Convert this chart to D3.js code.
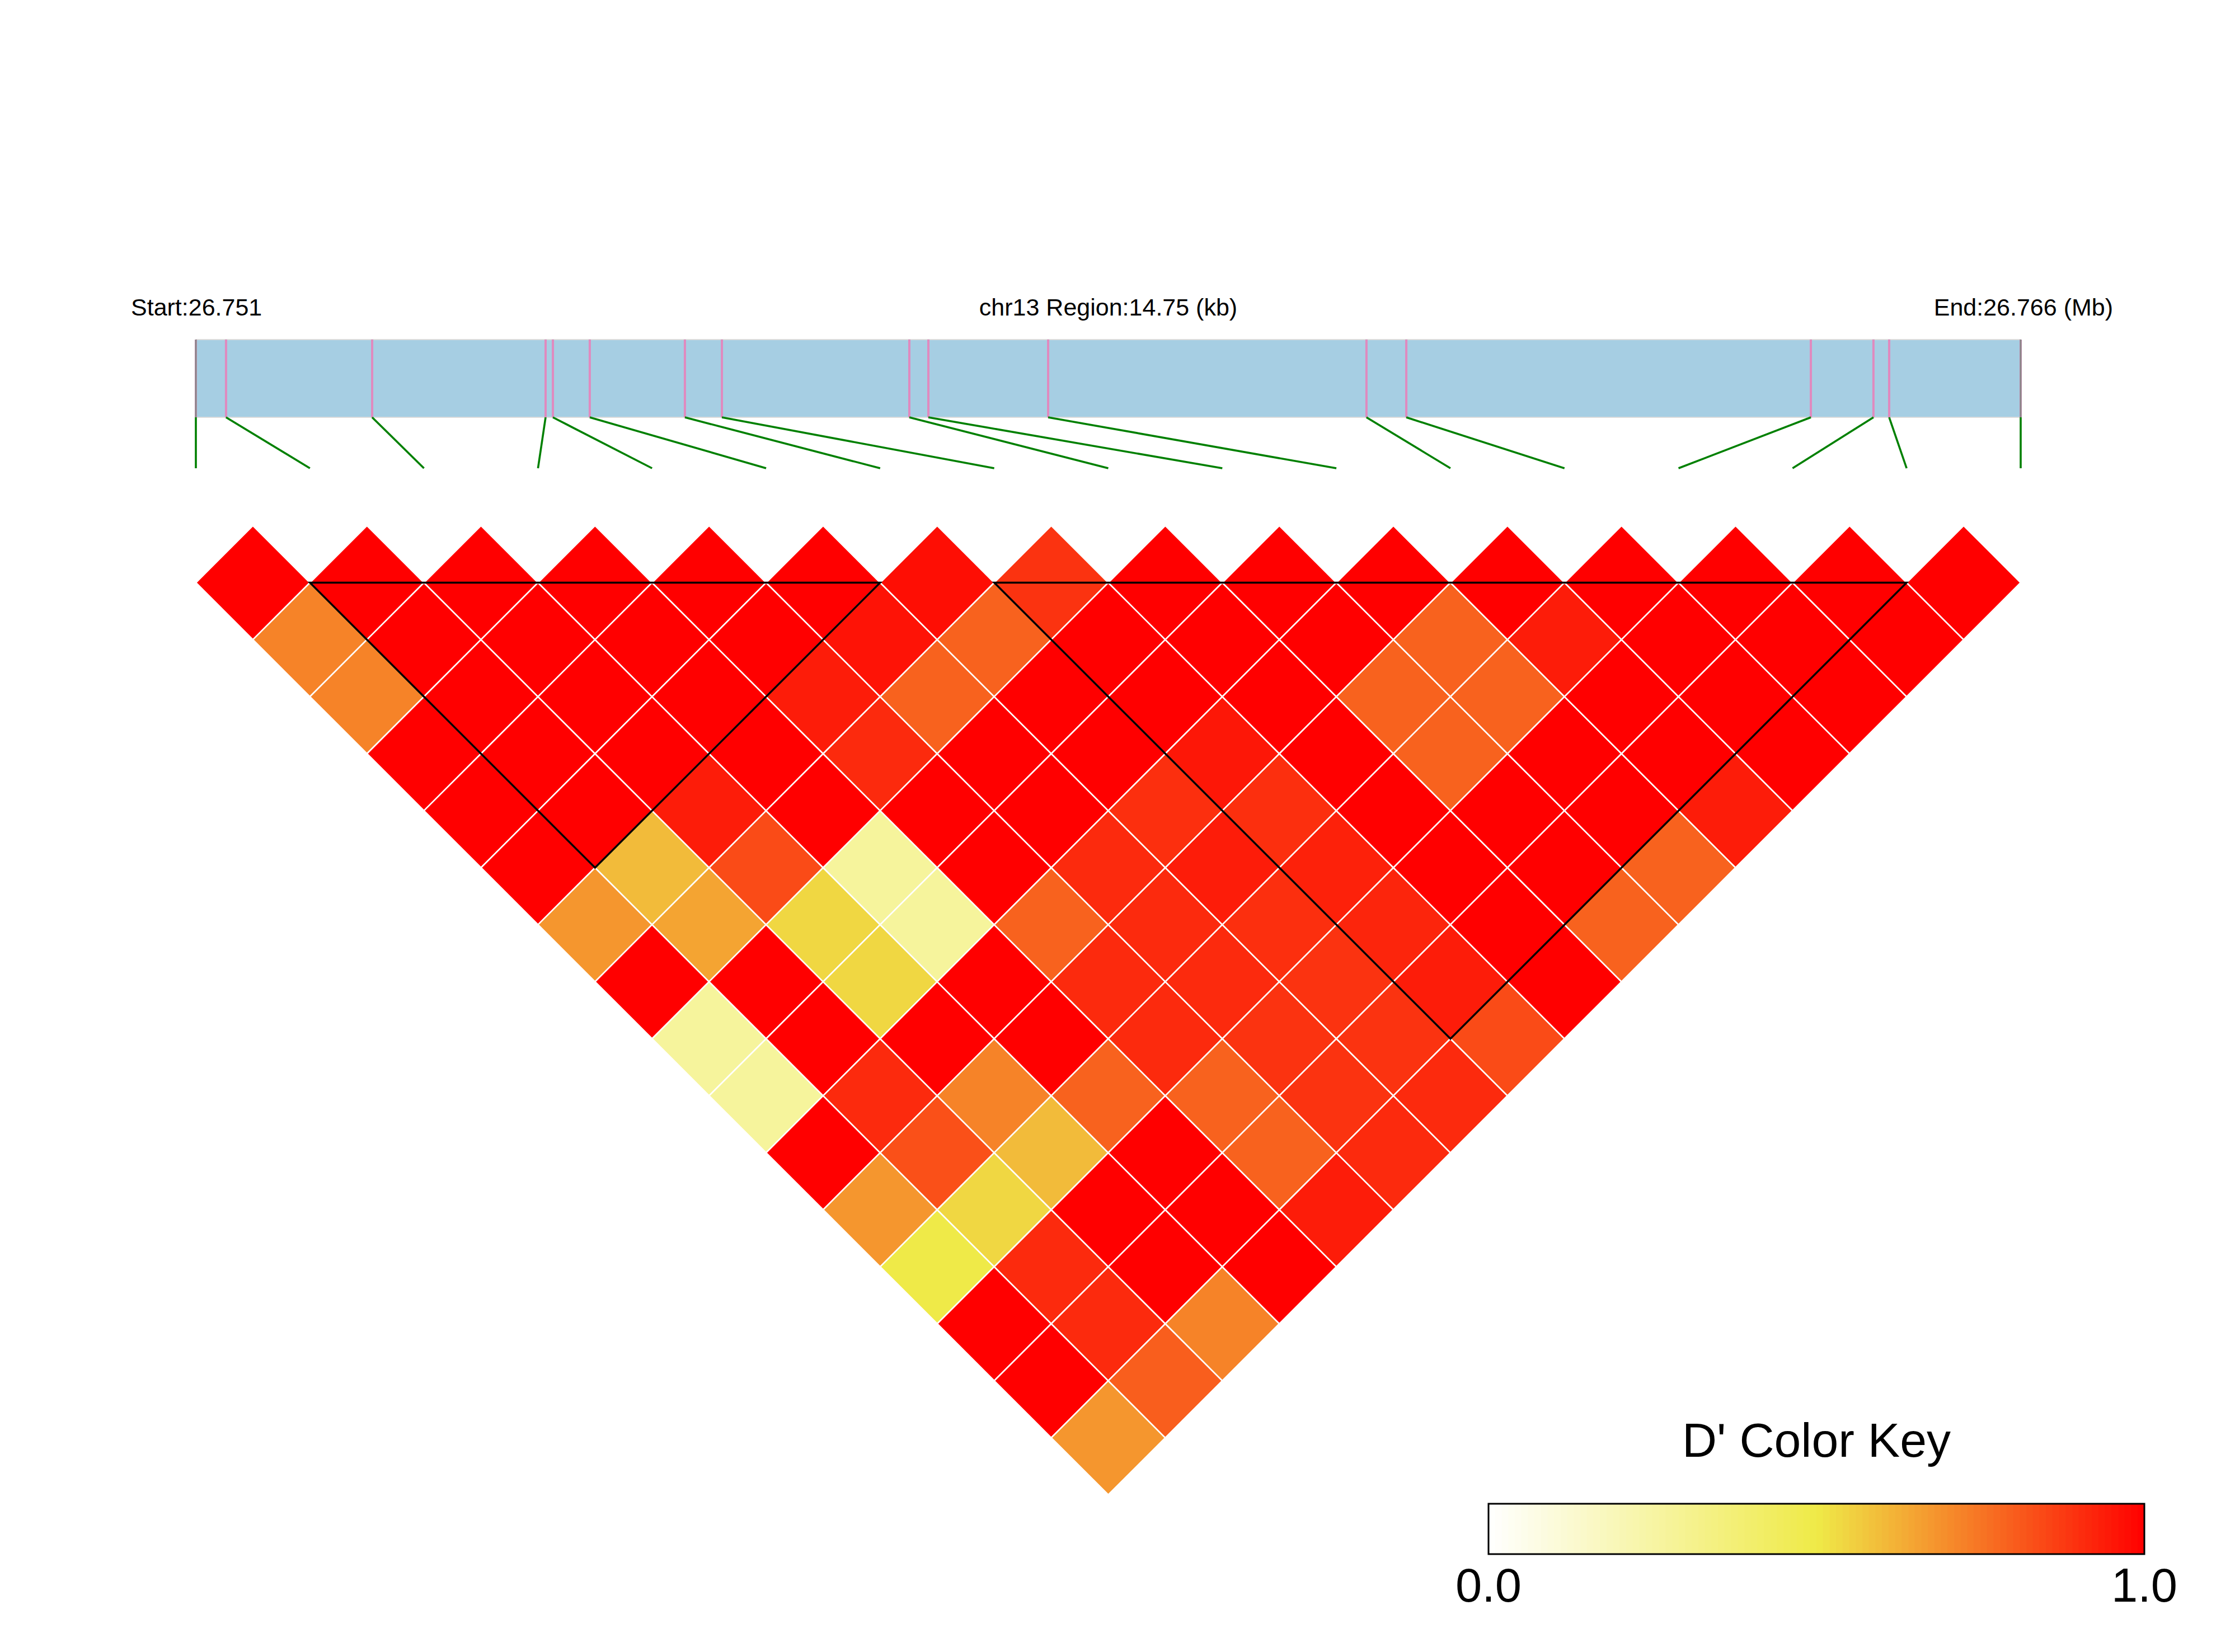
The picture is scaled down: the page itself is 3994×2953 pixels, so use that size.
<!DOCTYPE html>
<html>
<head>
<meta charset="utf-8">
<script src="https://cdn.jsdelivr.net/npm/d3@7"></script>
<style>
  body { margin: 0; background: #fff; }
  text { font-family: 'Liberation Sans', Arial, sans-serif; fill: #000; }
</style>
</head>
<body>
<svg id="ldPlot"></svg>
<script>
const chrom = 'chr13';
const regionStart = 26751200;
const regionEnd = 26765950;

// SNP positions (bp) along the region
const snpPos = [26751200, 26751444, 26752625, 26754027, 26754086, 26754384, 26755153, 26755452,
                26756967, 26757121, 26758089, 26760662, 26760984, 26764254, 26764760, 26764887, 26765950];

// pairwise D', row i holds pairs (i, i+1) ... (i, 16)
const dprime = [
  [1, 0.72, 0.72, 1, 1, 1, 0.68, 1, 0.27, 0.27, 1, 0.68, 0.5, 1, 1, 0.68],
  [1, 1, 1, 1, 1, 0.6, 0.65, 1, 1, 0.91, 0.83, 0.54, 0.91, 0.91, 0.8],
  [1, 1, 1, 1, 0.94, 0.84, 0.54, 0.54, 1, 0.72, 0.6, 1, 1, 0.72],
  [1, 1, 1, 1, 1, 0.27, 0.27, 1, 1, 0.79, 1, 1, 1],
  [1, 1, 0.94, 0.91, 1, 1, 0.79, 0.91, 0.91, 0.79, 0.79, 0.94],
  [1, 0.96, 0.79, 1, 1, 0.91, 0.91, 0.91, 0.89, 0.89, 0.91],
  [0.97, 0.79, 1, 1, 0.9, 0.94, 0.9, 0.89, 0.89, 0.91],
  [0.89, 1, 1, 0.95, 0.9, 0.93, 0.92, 0.94, 0.84],
  [1, 1, 1, 1, 1, 1, 1, 1],
  [1, 1, 0.79, 0.79, 1, 1, 0.79],
  [1, 0.79, 0.79, 1, 1, 0.79],
  [1, 0.94, 1, 1, 0.94],
  [1, 1, 1, 1],
  [1, 1, 1],
  [1, 1],
  [1]
];

// haplotype blocks, first and last SNP index
const blocks = [[1, 6], [7, 15]];

const keyStops = [0, 0.5, 1];
const keyColors = ['#ffffff', '#efea48', '#ff0000'];
const keyLabels = ['0.0', '1.0'];

const W = 3994, H = 2953;
let svg = d3.select('#ldPlot').attr('width', W).attr('height', H);
svg.append('rect').attr('width', W).attr('height', H).attr('fill', '#fff');

const nSnp = snpPos.length;
let xIdx = d3.scaleLinear().domain([0, nSnp - 1]).range([350, 3611]);
let xPos = d3.scaleLinear().domain([regionStart, regionEnd]).range(xIdx.range());
let colorD = d3.scaleLinear().domain(keyStops).range(keyColors);

const half = (xIdx(1) - xIdx(0)) / 2;
const topY = 1041.5;
const bar = {top: 607, bottom: 746, link: 837};

// header
let fmtMb = d3.format('.3f');
svg.append('text')
  .attr('x', 234).attr('y', 564)
  .attr('font-size', 43)
  .text('Start:' + fmtMb(regionStart / 1e6));

svg.append('text')
  .attr('x', (xIdx.range()[0] + xIdx.range()[1]) / 2).attr('y', 564)
  .attr('text-anchor', 'middle')
  .attr('font-size', 43)
  .text(`${chrom} Region:${d3.format('.2f')((regionEnd - regionStart) / 1000)} (kb)`);

svg.append('text')
  .attr('x', 3776).attr('y', 564)
  .attr('text-anchor', 'end')
  .attr('font-size', 43)
  .text('End:' + fmtMb(regionEnd / 1e6) + ' (Mb)');

// region bar
svg.append('rect')
  .attr('x', xPos(regionStart))
  .attr('y', bar.top)
  .attr('width', xPos(regionEnd) - xPos(regionStart))
  .attr('height', bar.bottom - bar.top)
  .attr('fill', '#a6cee3');

[bar.top, bar.bottom].forEach(function(y) {
  svg.append('line')
    .attr('x1', xPos(regionStart)).attr('x2', xPos(regionEnd))
    .attr('y1', y).attr('y2', y)
    .attr('stroke', '#dcdcdc').attr('stroke-width', 2);
});

svg.selectAll('.snp')
  .data(snpPos)
  .enter().append('line')
  .attr('class', 'snp')
  .attr('x1', d => xPos(d)).attr('x2', d => xPos(d))
  .attr('y1', bar.top).attr('y2', bar.bottom)
  .attr('stroke', '#e08abf')
  .attr('stroke-width', 4);

[regionStart, regionEnd].forEach(function(p) {
  svg.append('line')
    .attr('x1', xPos(p)).attr('x2', xPos(p))
    .attr('y1', bar.top).attr('y2', bar.bottom)
    .attr('stroke', '#888').attr('stroke-width', 3);
});

svg.selectAll('.link')
  .data(snpPos)
  .enter().append('line')
  .attr('class', 'link')
  .attr('x1', d => xPos(d)).attr('y1', bar.bottom)
  .attr('x2', (d, i) => xIdx(i)).attr('y2', bar.link)
  .attr('stroke', '#008000')
  .attr('stroke-width', 3.6);

// LD diamonds
let cells = [];
dprime.forEach(function(row, i) {
  row.forEach(function(v, k) { cells.push({i: i, j: i + k + 1, v: v}); });
});

svg.selectAll('.cell')
  .data(cells)
  .enter().append('path')
  .attr('class', 'cell')
  .attr('d', function(d) {
    let cx = (xIdx(d.i) + xIdx(d.j)) / 2;
    let cy = topY + (xIdx(d.j) - xIdx(d.i)) / 2 - half;
    return `M${cx},${cy - half}L${cx + half},${cy}L${cx},${cy + half}L${cx - half},${cy}Z`;
  })
  .attr('fill', d => colorD(d.v))
  .attr('stroke', '#fff')
  .attr('stroke-width', 2.6);

svg.selectAll('.block')
  .data(blocks)
  .enter().append('path')
  .attr('class', 'block')
  .attr('d', function(d) {
    let a = xIdx(d[0]), b = xIdx(d[1]);
    return `M${a},${topY}L${b},${topY}L${(a + b) / 2},${topY + (b - a) / 2}Z`;
  })
  .attr('fill', 'none')
  .attr('stroke', '#000')
  .attr('stroke-width', 3.5)
  .attr('stroke-linejoin', 'miter');

// colour key
const key = {x: 2660, y: 2688, w: 1172, h: 90};
let keyX = d3.scaleLinear().domain([0, 1]).range([key.x, key.x + key.w]);
let stripes = d3.range(100).map(k => k / 100);

svg.selectAll('.keyStripe')
  .data(stripes)
  .enter().append('rect')
  .attr('class', 'keyStripe')
  .attr('x', d => keyX(d))
  .attr('y', key.y)
  .attr('width', keyX(0.01) - keyX(0) + 0.8)
  .attr('height', key.h)
  .attr('fill', d => colorD(d + 0.005));

svg.append('rect')
  .attr('x', key.x).attr('y', key.y)
  .attr('width', key.w).attr('height', key.h)
  .attr('fill', 'none')
  .attr('stroke', '#000')
  .attr('stroke-width', 3);

svg.append('text')
  .attr('x', key.x + key.w / 2).attr('y', 2604)
  .attr('text-anchor', 'middle')
  .attr('font-size', 86)
  .text("D' Color Key");

svg.selectAll('.keyLabel')
  .data(keyLabels)
  .enter().append('text')
  .attr('class', 'keyLabel')
  .attr('x', d => keyX(+d))
  .attr('y', 2863)
  .attr('text-anchor', 'middle')
  .attr('font-size', 85)
  .text(d => d);
</script>
</body>
</html>
